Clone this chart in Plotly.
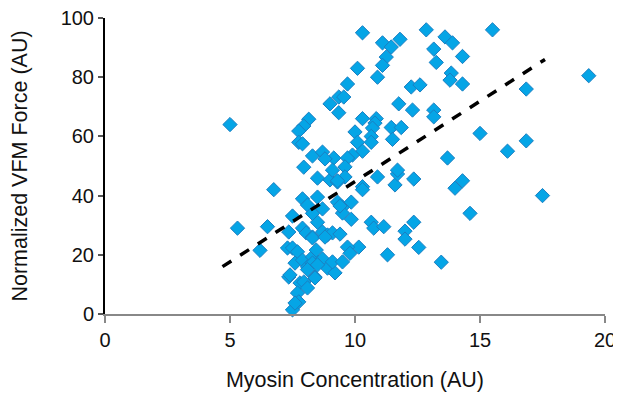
import plotly.graph_objects as go

myosin = [
    5.0, 5.3, 6.2, 6.5, 6.75,
    19.35, 15.5, 16.85, 16.85, 16.1, 15.0, 13.7, 17.5, 14.6, 14.3, 14.0, 13.45, 12.55, 12.35, 12.0, 12.0,
    11.3, 10.65, 10.75, 11.15, 10.15, 11.6, 11.7, 12.35, 10.9, 10.3, 10.3,
    10.3, 11.1, 11.45, 11.8, 12.85, 13.6, 13.9, 13.15, 14.3, 13.25, 11.25, 11.1, 10.1, 10.9, 9.7,
    13.85, 13.8, 14.3, 12.25, 12.6, 11.75, 12.3, 13.15, 13.15, 9.35, 9.55, 9.35, 9.0, 10.3, 10.85,
    10.8, 10.7, 10.65, 10.65, 11.45, 11.85, 11.5, 10.0, 10.1, 10.3, 9.9, 9.7, 9.15, 9.6, 11.7,
    8.15, 7.95, 7.75, 7.75, 7.9, 8.3, 8.7, 8.8, 9.6, 7.95, 8.5, 9.0, 9.3, 9.1, 9.3,
    7.9, 8.1, 8.5, 8.7, 9.3, 9.5, 9.85, 9.85, 9.5, 7.5, 8.5, 7.35, 7.9, 8.05, 8.3, 8.7, 8.9, 9.1, 9.4,
    9.7, 9.8, 7.3, 7.5, 7.7, 7.6, 7.9, 8.1, 8.3, 8.45, 8.7, 8.3, 8.9, 9.2, 7.35, 7.8, 7.95, 8.1, 8.4,
    7.7, 7.75, 7.5, 7.6, 8.5, 9.1, 9.5, 8.3, 8.3, 8.8, 7.4, 8.4, 8.1, 9.4,
]
vfm_force = [
    64, 29, 21.5, 29.5, 42,
    80.5, 96, 76, 58.5, 55, 61, 52.7, 40, 34, 45, 42.5, 17.5, 22.5, 31, 28, 25.3,
    20, 31, 29, 29.5, 22.6, 43.6, 47.3, 45.6, 46.3, 43, 42,
    95, 91.6, 90.2, 92.8, 96, 93.6, 91.6, 89.5, 87, 85, 86.8, 84, 83, 80, 77.7,
    81.4, 79, 77.7, 76.7, 77.4, 71, 68.9, 68.9, 66.6, 73.3, 73.3, 68, 71, 66, 66,
    64.5, 62.8, 60, 58, 63, 63, 59, 61.5, 58, 55, 53.7, 52.7, 52.7, 49.7, 48.6,
    65.8, 63.5, 61.8, 58, 57.5, 53.4, 54.7, 52.4, 46.3, 49.6, 45.9, 45.3, 44.6, 48.6, 45,
    38.9, 36.8, 39.5, 35.5, 37.8, 36.1, 37.8, 32, 34.1, 33.1, 31, 27.7, 29, 27.4, 26, 27.7, 26.7, 27.4, 27,
    22.6, 20.5, 22.3, 22.3, 21, 17.2, 18.2, 15.9, 19.3, 21.6, 18.6, 17.2, 15.5, 13.9, 12.5, 10.5, 10.8, 8.8, 12.5,
    7.1, 4.1, 1.4, 3.7, 16.6, 17.6, 17.6, 34, 25.7, 26, 13.2, 12.2, 15, 36.5,
]

trend_x = [4.7, 17.6]
trend_y = [16.0, 86.0]

x_ticks = [0, 5, 10, 15, 20]
y_ticks = [0, 20, 40, 60, 80, 100]

font_family = "Liberation Sans, Arial, Helvetica, sans-serif"

fig = go.Figure()
fig.add_trace(go.Scatter(
    x=myosin, y=vfm_force, mode="markers",
    marker=dict(symbol="diamond", size=11, color="#05a5e6",
                line=dict(color="#1b7fc2", width=1)),
    showlegend=False, hoverinfo="x+y", cliponaxis=False,
))
fig.add_trace(go.Scatter(
    x=trend_x, y=trend_y, mode="lines",
    line=dict(color="black", width=3.5, dash="dash"),
    showlegend=False, hoverinfo="skip",
))

# The page body adds an 8px offset, so the figure is sized to fit the window.
fig.update_layout(
    width=613, height=386,
    margin=dict(l=97, r=16, t=10, b=80),
    paper_bgcolor="white", plot_bgcolor="white",
    font=dict(family=font_family, size=20, color="#111"),
    xaxis=dict(
        range=[0, 20], tickvals=x_ticks, showgrid=False, zeroline=False,
        showline=True, linecolor="#888", linewidth=2, automargin=False,
        ticks="outside", tickcolor="#888", ticklen=7, tickwidth=2,
        ticklabeloverflow="allow",
        title=dict(text="Myosin Concentration (AU)", font=dict(size=21.5), standoff=22),
        tickfont=dict(size=20),
    ),
    yaxis=dict(
        range=[0, 100], tickvals=y_ticks, showgrid=False, zeroline=False,
        showline=True, linecolor="black", linewidth=2, automargin=False,
        ticks="outside", tickcolor="#555", ticklen=5, tickwidth=1.5,
        ticklabeloverflow="allow",
        title=dict(text="Normalized VFM Force (AU)", font=dict(size=21.5), standoff=30),
        tickfont=dict(size=20),
    ),
)

fig.write_html("out.html")
